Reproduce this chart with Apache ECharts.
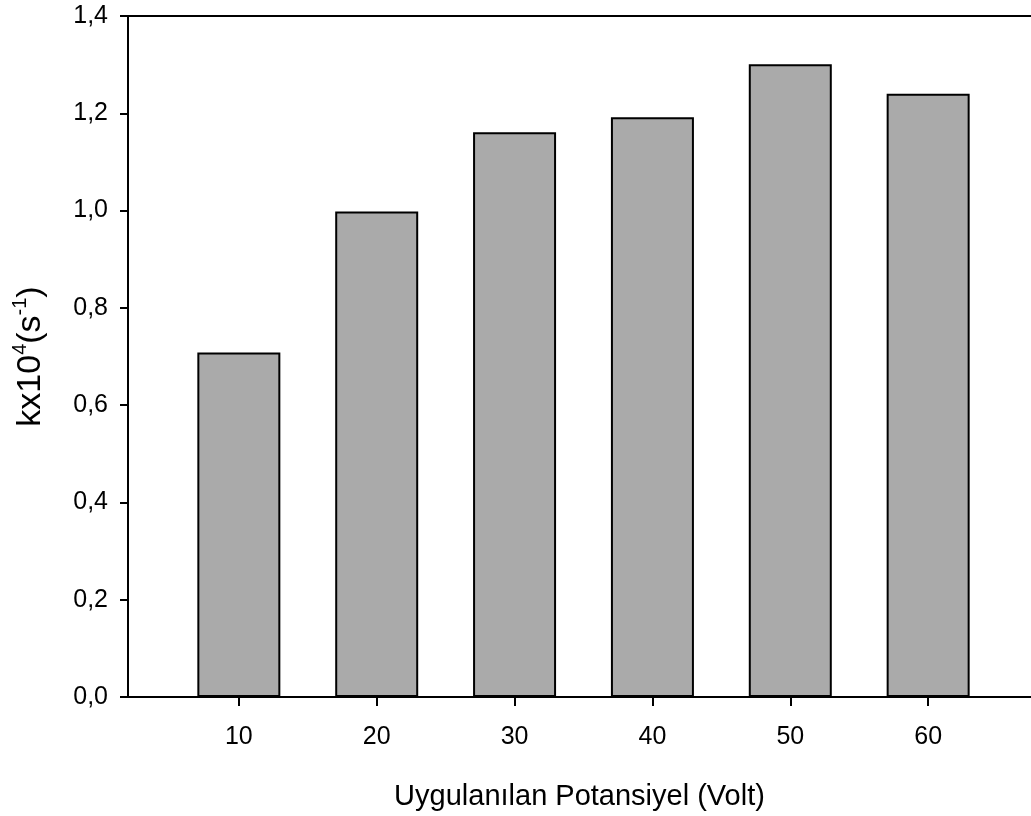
<!DOCTYPE html>
<html>
<head>
<meta charset="utf-8">
<script src="https://cdn.jsdelivr.net/npm/echarts@6/dist/echarts.min.js"></script>
<style>html,body{margin:0;padding:0;background:#fff;overflow:hidden;}#c{width:1031px;height:816px;}</style>
</head>
<body>
<div id="c"></div>
<script>
const categories = [10, 20, 30, 40, 50, 60];
const values = [0.708, 0.998, 1.161, 1.192, 1.301, 1.240];

const chart = echarts.init(document.getElementById('c'), null, {renderer: 'canvas', width: 1031, height: 816});
const font = 'Liberation Sans, Arial, sans-serif';
chart.setOption({
  animation: false,
  backgroundColor: '#fff',
  grid: {left: 128, width: 904, top: 16, height: 682, containLabel: false},
  xAxis: [{
    type: 'value', min: 1.96, max: 67.46, position: 'bottom',
    name: 'Uygulanılan Potansiyel (Volt)', nameLocation: 'middle', nameGap: 85,
    nameTextStyle: {fontFamily: font, fontSize: 29, color: '#000'},
    axisLine: {show: true, onZero: false, lineStyle: {color: '#000', width: 2}},
    axisTick: {show: true, customValues: categories, length: 9, inside: false, lineStyle: {color: '#000', width: 2}},
    axisLabel: {customValues: categories, fontFamily: font, fontSize: 25, color: '#000', margin: 28},
    splitLine: {show: false}
  }, {
    type: 'value', min: 1.96, max: 67.46, position: 'top',
    axisLine: {show: true, onZero: false, lineStyle: {color: '#000', width: 2}},
    axisTick: {show: false}, axisLabel: {show: false}, splitLine: {show: false}
  }],
  yAxis: {
    type: 'value', min: 0, max: 1.4, interval: 0.2,
    name: '{b|kx10}{s|4}{b|(s}{s|-1}{b|)}', nameLocation: 'middle', nameGap: 80, nameRotate: 90,
    nameTextStyle: {
      rich: {
        b: {fontFamily: font, fontSize: 34, color: '#000', lineHeight: 38, verticalAlign: 'bottom'},
        s: {fontFamily: font, fontSize: 20, color: '#000', lineHeight: 38, verticalAlign: 'top'}
      }
    },
    axisLine: {show: true, lineStyle: {color: '#000', width: 2}},
    axisTick: {show: true, length: 8, inside: false, lineStyle: {color: '#000', width: 2}},
    axisLabel: {fontFamily: font, fontSize: 25, color: '#000', margin: 20,
      formatter: v => v.toFixed(1).replace('.', ',')},
    splitLine: {show: false}
  },
  series: [{
    type: 'bar', xAxisIndex: 0,
    data: categories.map((c, i) => [c, values[i]]),
    barWidth: 83,
    itemStyle: {color: '#aaaaaa', borderColor: '#000', borderWidth: 2}
  }]
});
</script>
</body>
</html>
